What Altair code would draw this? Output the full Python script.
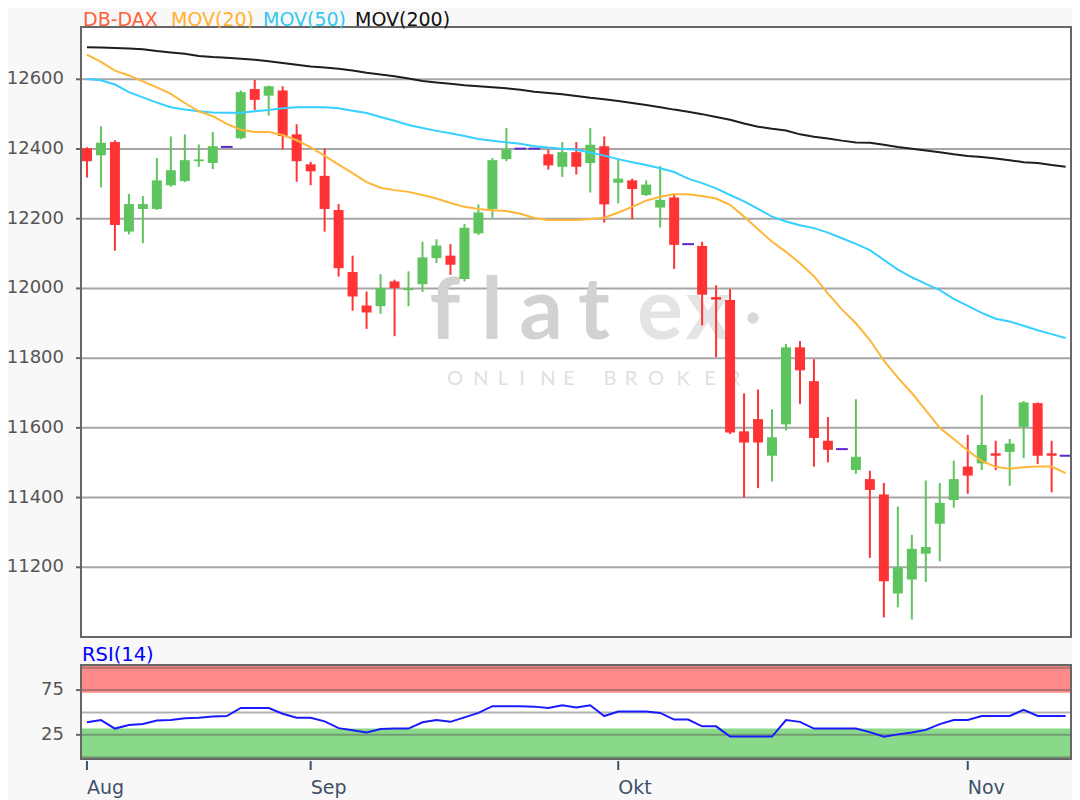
import altair as alt
import pandas as pd

# ---------------- data ----------------
idx = list(range(71))
opens = [12402, 12382, 12420, 12163, 12228, 12228, 12296, 12308, 12365, 12360,
         12406, 12431, 12572, 12553, 12568, 12442, 12356, 12323, 12225, 12047,
         11951, 11949, 12020, 11995, 12012, 12087, 12094, 12027, 12158, 12228,
         12371, 12401, 12401, 12385, 12349, 12391, 12360, 12408, 12303, 12310,
         12268, 12232, 12261, 12127, 12122, 11975, 11967, 11590, 11625, 11520,
         11610, 11831, 11734, 11563, 11539, 11479, 11453, 11409, 11125, 11165,
         11239, 11325, 11393, 11489, 11498, 11527, 11531, 11603, 11671, 11527,
         11520]
highs = [12405, 12465, 12425, 12271, 12265, 12374, 12436, 12442, 12413, 12449,
         12406, 12568, 12598, 12582, 12580, 12471, 12363, 12401, 12242, 12094,
         11991, 12041, 12025, 12049, 12134, 12141, 12127, 12185, 12241, 12374,
         12460, 12401, 12401, 12398, 12420, 12420, 12460, 12436, 12372, 12315,
         12310, 12351, 12272, 12127, 12134, 12009, 11998, 11699, 11710, 11653,
         11841, 11849, 11797, 11631, 11539, 11682, 11477, 11442, 11374, 11293,
         11449, 11442, 11506, 11580, 11694, 11563, 11568, 11677, 11673, 11563,
         11520]
lows = [12318, 12290, 12108, 12155, 12130, 12225, 12292, 12305, 12349, 12342,
        12406, 12428, 12512, 12496, 12399, 12306, 12296, 12163, 12034, 11936,
        11884, 11927, 11863, 11949, 11990, 12073, 12039, 12020, 12153, 12203,
        12365, 12401, 12401, 12341, 12320, 12327, 12275, 12189, 12244, 12199,
        12265, 12175, 12056, 12127, 11894, 11803, 11582, 11401, 11427, 11446,
        11593, 11668, 11489, 11501, 11539, 11468, 11227, 11056, 11085, 11050,
        11158, 11217, 11371, 11411, 11479, 11479, 11434, 11513, 11496, 11415,
        11520]
closes = [12365, 12418, 12182, 12242, 12242, 12310, 12339, 12368, 12370, 12408,
          12406, 12563, 12541, 12580, 12437, 12365, 12336, 12228, 12058, 11977,
          11931, 12001, 12001, 12000, 12089, 12123, 12068, 12174, 12218, 12368,
          12399, 12401, 12401, 12353, 12391, 12349, 12412, 12241, 12315, 12285,
          12298, 12254, 12125, 12127, 11982, 11968, 11587, 11558, 11558, 11573,
          11831, 11765, 11571, 11537, 11539, 11517, 11422, 11160, 11200, 11253,
          11258, 11385, 11453, 11463, 11551, 11520, 11555, 11673, 11520, 11520,
          11520]
ma20 = [12671, 12650, 12625, 12611, 12594, 12577, 12558, 12532, 12508, 12494,
        12472, 12455, 12449, 12449, 12440, 12425, 12405, 12380, 12355, 12331,
        12305, 12289, 12282, 12277, 12268, 12258, 12245, 12234, 12228, 12224,
        12222, 12214, 12202, 12196, 12196, 12196, 12199, 12203, 12218, 12234,
        12252, 12263, 12270, 12270, 12265, 12258, 12240, 12206, 12170, 12134,
        12105, 12072, 12035, 11985, 11940, 11900, 11852, 11793, 11744, 11700,
        11650, 11600, 11568, 11535, 11505, 11488, 11483, 11487, 11489, 11489,
        11470]
ma50 = [12601, 12597, 12585, 12563, 12548, 12533, 12520, 12513, 12508, 12505,
        12504, 12504, 12508, 12512, 12517, 12520, 12520, 12520, 12517, 12510,
        12503, 12492, 12481, 12469, 12460, 12452, 12445, 12437, 12429, 12424,
        12419, 12415, 12408, 12404, 12401, 12398, 12390, 12381, 12371, 12362,
        12354, 12345, 12334, 12315, 12302, 12287, 12268, 12250, 12228, 12206,
        12192, 12181, 12173, 12160, 12144, 12128, 12110, 12082, 12054, 12032,
        12013, 11995, 11970, 11950, 11930, 11913, 11905, 11893, 11880, 11869,
        11858]
ma200 = [12692, 12691, 12690, 12688, 12686, 12681, 12677, 12673, 12667, 12664,
         12662, 12659, 12656, 12652, 12647, 12642, 12637, 12634, 12630, 12625,
         12619, 12614, 12609, 12602, 12595, 12591, 12587, 12583, 12580, 12577,
         12574, 12570, 12564, 12561, 12557, 12552, 12547, 12543, 12538, 12532,
         12526, 12520, 12513, 12507, 12500, 12492, 12484, 12473, 12464, 12458,
         12453, 12442, 12435, 12430, 12424, 12419, 12418, 12412, 12406, 12401,
         12396, 12391, 12385, 12380, 12377, 12373, 12368, 12362, 12360, 12354,
         12349]
rsi = [39, 41.5, 32, 36, 37, 41, 41.5, 43.5, 44, 45.5,
       46, 55, 55, 55, 48.5, 44, 44, 40, 32.5, 30,
       27.5, 31.5, 32, 32, 39, 41.5, 39.5, 44.5, 49.5, 57,
       57, 57, 56.5, 55, 58, 55.5, 58, 46, 51, 51,
       51, 49.5, 42, 42, 34.5, 34.5, 23, 23, 23, 23,
       41.5, 39.5, 32, 32, 32, 32, 28, 23, 25.5, 27.5,
       30.5, 37, 41.5, 41.5, 46, 46, 46, 53, 46, 46,
       46]

month_names = ["Aug", "Sep", "Okt", "Nov"]
month_idx = [0, 16, 38, 63]
price_ticks = [11200, 11400, 11600, 11800, 12000, 12200, 12400, 12600]
price_domain = [11000, 12750]
rsi_ticks = [25, 75]
rsi_grid_vals = [0, 25, 50, 75, 100]
rsi_domain = [-2, 103]
rsi_over, rsi_under = 72, 32

title_parts = ["DB-DAX", "MOV(20)", "MOV(50)", "MOV(200)"]

# ---------------- styling / layout ----------------
FONT = "DejaVu Sans"
W, H = 990, 732
XD = [-0.426, 70.385]
UP, DOWN, FLAT = "#5ec55e", "#ff3333", "#5a28c8"
C20, C50, C200 = "#ffb638", "#35d0ff", "#1e1e1e"
FRAME = "#666666"
LABEL = "#555555"
MONTH = "#3d5068"

df = pd.DataFrame(dict(i=idx, o=opens, h=highs, l=lows, c=closes,
                       ma20=ma20, ma50=ma50, ma200=ma200, rsi=rsi))
df["dir"] = ["up" if c > o else ("down" if c < o else "flat") for o, c in zip(opens, closes)]

xs = alt.Scale(domain=XD, nice=False, zero=False, padding=0)
ys_p = alt.Scale(domain=price_domain, range=[610, 0], nice=False, zero=False, padding=0)
ys_r = alt.Scale(domain=rsi_domain, range=[732, 638], nice=False, zero=False, padding=0)
cscale = alt.Scale(domain=["up", "down", "flat"], range=[UP, DOWN, FLAT])

X = alt.X("i:Q", scale=xs, axis=None)
base = alt.Chart(df)

# ----- main price panel -----
panel_p = pd.DataFrame({"x0": [XD[0]], "x1": [XD[1]], "y0": [price_domain[0]], "y1": [price_domain[1]]})
PX0 = alt.X("x0:Q", scale=xs, axis=None)
bg_main = alt.Chart(panel_p).mark_rect(fill="white").encode(
    x=PX0, x2="x1:Q", y=alt.Y("y0:Q", scale=ys_p, axis=None), y2="y1:Q")
frame_main = alt.Chart(panel_p).mark_rect(filled=False, stroke=FRAME, strokeWidth=2).encode(
    x=PX0, x2="x1:Q", y=alt.Y("y0:Q", scale=ys_p, axis=None), y2="y1:Q")

ptick_df = pd.DataFrame({"v": price_ticks, "lab": [str(v) for v in price_ticks]})
grid_main = alt.Chart(ptick_df).mark_rule(color="#a6a6a6", strokeWidth=2).encode(
    y=alt.Y("v:Q", scale=ys_p, axis=None))
ptick_marks = alt.Chart(ptick_df).mark_rule(color=FRAME, strokeWidth=2).encode(
    y=alt.Y("v:Q", scale=ys_p, axis=None), x=alt.value(-5), x2=alt.value(0))
ptick_labels = alt.Chart(ptick_df).mark_text(
    font=FONT, fontSize=18, color=LABEL, align="right", baseline="middle").encode(
    y=alt.Y("v:Q", scale=ys_p, axis=None), x=alt.value(-17), text="lab:N")

wm_layers = []
for ch, px, col in [("f", 364, "#d2d2d2"), ("l", 411, "#d2d2d2"), ("a", 460, "#d2d2d2"),
                    ("t", 513, "#d2d2d2"), ("e", 579, "#e4e4e4"), ("x", 627, "#e4e4e4")]:
    wm_layers.append(alt.Chart(panel_p).mark_text(
        text=ch, font="Lato", fontSize=86, fontWeight="bold", color=col,
        align="center", baseline="alphabetic").encode(x=alt.value(px), y=alt.value(312)))
wm_layers.append(alt.Chart(panel_p).mark_circle(color="#d8d8d8", opacity=1, size=130).encode(
    x=alt.value(672), y=alt.value(291)))
for ch, px in [("O", 374), ("N", 400), ("L", 422), ("I", 441), ("N", 467), ("E", 488),
               ("B", 529), ("R", 550), ("O", 575), ("K", 602), ("E", 629), ("R", 653)]:
    wm_layers.append(alt.Chart(panel_p).mark_text(
        text=ch, font="Lato", fontSize=20, color="#e0e0e0",
        align="center", baseline="middle").encode(x=alt.value(px), y=alt.value(352)))

wicks = base.mark_rule(strokeWidth=2).encode(
    x=X, y=alt.Y("l:Q", scale=ys_p, axis=None), y2="h:Q",
    color=alt.Color("dir:N", scale=cscale, legend=None))
bodies = base.mark_bar(size=10).encode(
    x=X, y=alt.Y("o:Q", scale=ys_p, axis=None), y2="c:Q",
    color=alt.Color("dir:N", scale=cscale, legend=None))
flats = base.transform_filter("datum.dir == 'flat'").transform_calculate(
    xa="datum.i - 0.42", xb="datum.i + 0.42").mark_rule(strokeWidth=2, color=FLAT).encode(
    x=alt.X("xa:Q", scale=xs, axis=None), x2="xb:Q",
    y=alt.Y("c:Q", scale=ys_p, axis=None))

def ma_line(field, color):
    return base.mark_line(color=color, strokeWidth=2).encode(
        x=X, y=alt.Y(f"{field}:Q", scale=ys_p, axis=None))

title_layers = []
for txt, col, px in zip(title_parts, ["#ff5f3a", "#ffb22e", "#33c8f0", "#111111"], [2, 90, 182, 274]):
    title_layers.append(alt.Chart(panel_p).mark_text(
        text=txt, font=FONT, fontSize=19, color=col, align="left",
        baseline="alphabetic").encode(x=alt.value(px), y=alt.value(-1)))

main = alt.layer(bg_main, grid_main, *wm_layers, wicks, bodies, flats,
                 ma_line("ma200", C200), ma_line("ma50", C50), ma_line("ma20", C20),
                 frame_main, ptick_marks, ptick_labels, *title_layers)

# ----- RSI panel -----
panel_r = pd.DataFrame({"x0": [XD[0]], "x1": [XD[1]], "y0": [rsi_domain[0]], "y1": [rsi_domain[1]],
                        "ob": [rsi_over], "ub": [rsi_under]})
RX0 = alt.X("x0:Q", scale=xs, axis=None)
bg_rsi = alt.Chart(panel_r).mark_rect(fill="white").encode(
    x=RX0, x2="x1:Q", y=alt.Y("y0:Q", scale=ys_r, axis=None), y2="y1:Q")
red_band = alt.Chart(panel_r).mark_rect(fill="#ff8a8a").encode(
    x=RX0, x2="x1:Q", y=alt.Y("ob:Q", scale=ys_r, axis=None), y2="y1:Q")
green_band = alt.Chart(panel_r).mark_rect(fill="#8ad88a").encode(
    x=RX0, x2="x1:Q", y=alt.Y("y0:Q", scale=ys_r, axis=None), y2="ub:Q")
grid_rsi = alt.Chart(pd.DataFrame({"v": rsi_grid_vals})).mark_rule(
    color="#555555", opacity=0.45, strokeWidth=2).encode(y=alt.Y("v:Q", scale=ys_r, axis=None))
rsi_line = base.mark_line(color="#1a1aff", strokeWidth=2).encode(
    x=X, y=alt.Y("rsi:Q", scale=ys_r, axis=None))
frame_rsi = alt.Chart(panel_r).mark_rect(filled=False, stroke=FRAME, strokeWidth=2).encode(
    x=RX0, x2="x1:Q", y=alt.Y("y0:Q", scale=ys_r, axis=None), y2="y1:Q")
rsi_label = alt.Chart(panel_r).mark_text(
    text="RSI(14)", font=FONT, fontSize=19.5, color="#0000ff", align="left",
    baseline="alphabetic").encode(x=alt.value(1), y=alt.value(634))

rtick_df = pd.DataFrame({"v": rsi_ticks, "lab": [str(v) for v in rsi_ticks]})
rtick_marks = alt.Chart(rtick_df).mark_rule(color=FRAME, strokeWidth=2).encode(
    y=alt.Y("v:Q", scale=ys_r, axis=None), x=alt.value(-5), x2=alt.value(0))
rtick_labels = alt.Chart(rtick_df).mark_text(
    font=FONT, fontSize=18, color=LABEL, align="right", baseline="middle").encode(
    y=alt.Y("v:Q", scale=ys_r, axis=None), x=alt.value(-17), text="lab:N")

month_df = pd.DataFrame({"m": month_idx, "name": month_names})
mtick_marks = alt.Chart(month_df).mark_rule(color=MONTH, strokeWidth=2).encode(
    x=alt.X("m:Q", scale=xs, axis=None), y=alt.value(734), y2=alt.value(743))
mtick_labels = alt.Chart(month_df).mark_text(
    font=FONT, fontSize=19, color=MONTH, align="left", baseline="alphabetic", dx=0).encode(
    x=alt.X("m:Q", scale=xs, axis=None), y=alt.value(767), text="name:N")

rsi_panel = alt.layer(bg_rsi, red_band, green_band, grid_rsi, rsi_line, frame_rsi,
                      rsi_label, rtick_marks, rtick_labels, mtick_marks, mtick_labels)

chart = alt.layer(main, rsi_panel).resolve_scale(y="independent").properties(
    width=W, height=H, background="#f8f8f8",
    padding={"left": 73, "top": 19, "right": 1, "bottom": 41},
    autosize=alt.AutoSizeParams(type="none"),
).configure_view(stroke=None)

chart.save("out.html", embed_options={"renderer": "svg", "actions": False})
